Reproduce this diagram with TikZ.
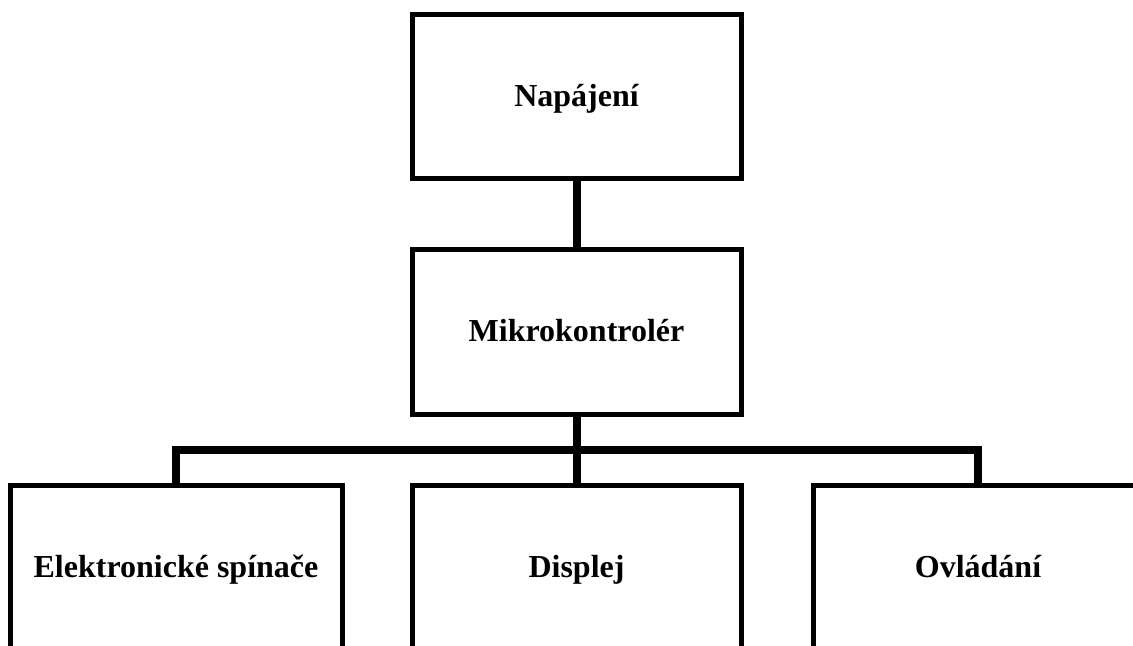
\documentclass[tikz,border=0pt]{standalone}
\usepackage{fontspec}
\setmainfont{Liberation Serif}

\begin{document}
\begin{tikzpicture}[x=0.5pt, y=-0.5pt,
    box/.style={draw, line width=2.5pt, rectangle, minimum height=82pt,
      text height=12pt, text depth=2pt,
      font=\fontsize{16}{19}\selectfont\bfseries},
    link/.style={line width=4pt}]
    \clip (0,0) rectangle (1133,646);
    \node[box, minimum width=164.5pt] (napajeni) at (576.5,97) {Napájení};
    \node[box, minimum width=164.5pt] (mcu) at (576.5,332) {Mikrokontrolér};
    \node[box, minimum width=166pt] (spinace) at (176,567) {Elektronické spínače};
    \node[box, minimum width=164.5pt] (displej) at (576.5,567) {Displej};
    \node[box, minimum width=165pt] (ovladani) at (978,567) {Ovládání};
    \coordinate (bus) at (576.5,450);
    \draw[link] (napajeni) -- (mcu);
    \draw[link] (mcu) -- (displej);
    \draw[link] (spinace.north) |- (bus) -| (ovladani.north);
  \end{tikzpicture}
\end{document}
